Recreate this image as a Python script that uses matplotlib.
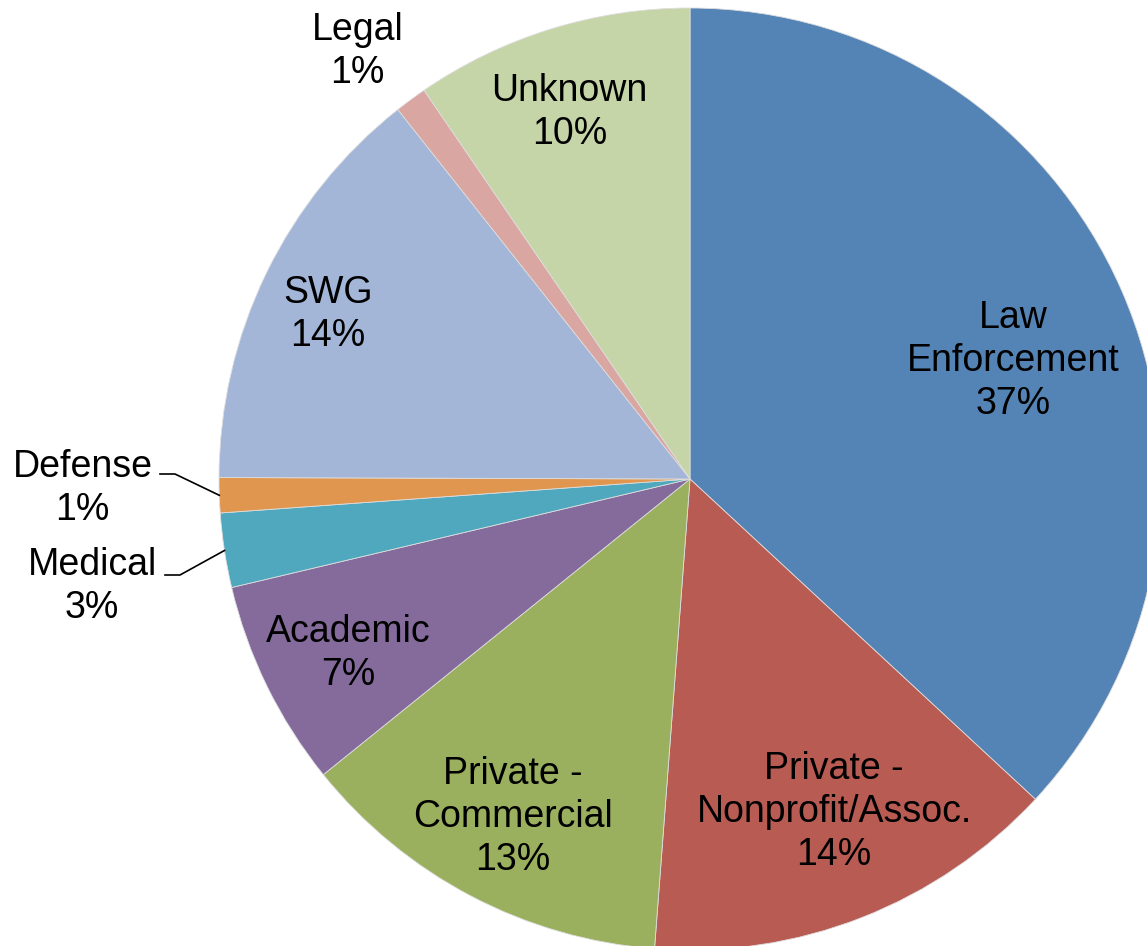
import matplotlib.pyplot as plt
import numpy as np

plt.rcParams['font.family'] = ['Liberation Sans', 'DejaVu Sans']

# slice data (clockwise from 12 o'clock)
categories = ['Law\nEnforcement', 'Private -\nNonprofit/Assoc.', 'Private -\nCommercial',
              'Academic', 'Medical', 'Defense', 'SWG', 'Legal', 'Unknown']
shares = [36.9, 14.3, 13.0, 7.1, 2.55, 1.2, 14.3, 1.1, 9.55]
colors = ['#5484B5', '#B85B53', '#9BB05E', '#846B9C', '#4FA8BE',
          '#E1964F', '#A3B6D8', '#D9A6A2', '#C6D5A8']

# label radius (as fraction of pie radius) and angle tweak per slice
label_r = [0.73, 0.77, 0.81, 0.815, 1.29, 1.29, 0.845, 1.15, 0.82]
label_dang = [-3.5, 2.0, 0.0, 1.0, 1.5, -1.1, 1.5, 1.5, 1.0]

W, H = 1147, 946
cx, cy, R = 690, 479, 471

fig = plt.figure(figsize=(W / 100, H / 100), dpi=100)
ax = fig.add_axes([0, 0, 1, 1])

wedges, _ = ax.pie(shares, colors=colors, startangle=90, counterclock=False,
                   radius=1, center=(0, 0),
                   wedgeprops=dict(linewidth=0.6, edgecolor='#dddddd'))

ax.set_xlim(-cx / R, (W - cx) / R)
ax.set_ylim(-(H - cy) / R, cy / R)
ax.set_aspect('equal')
ax.axis('off')

total = sum(shares)
for i, w in enumerate(wedges):
    mid = (w.theta1 + w.theta2) / 2 + label_dang[i]
    a = np.deg2rad(mid)
    x, y = label_r[i] * np.cos(a), label_r[i] * np.sin(a)
    pct = '%d%%' % round(shares[i] / total * 100)
    ax.text(x, y, categories[i] + '\n' + pct, ha='center', va='center',
            fontsize=27, linespacing=1.25, color='black')

# leader lines for Defense and Medical
for i, ytxt in [(5, 474), (4, 575)]:
    w = wedges[i]
    a = np.deg2rad((w.theta1 + w.theta2) / 2)
    ex, ey = np.cos(a), np.sin(a)
    yy = (cy - ytxt) / R
    x0 = (160 + (5 if i == 4 else 0) - cx) / R
    x1 = x0 + 15 / R
    ax.plot([x0, x1, ex], [yy, yy, ey], color='black', lw=1.2)

fig.savefig('out.png', dpi=100)
